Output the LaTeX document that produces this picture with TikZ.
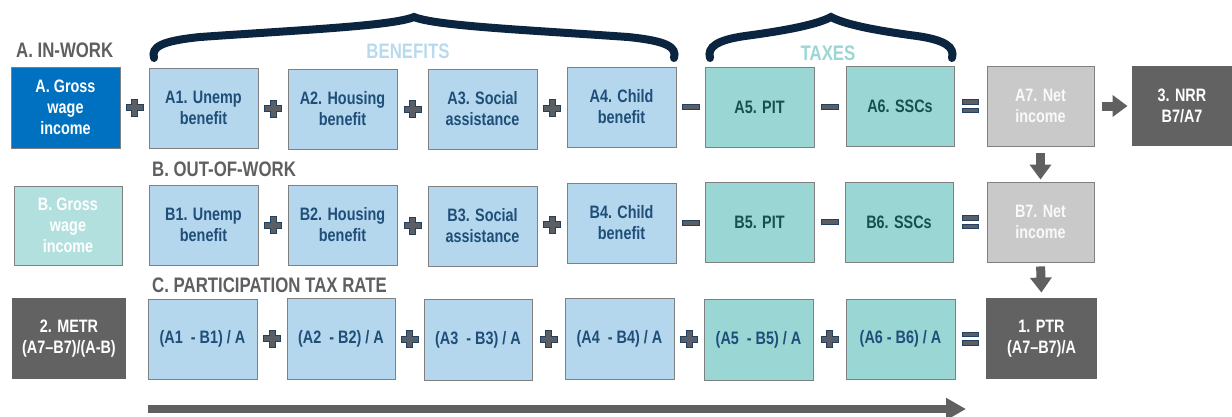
\documentclass[tikz,border=0pt]{standalone}
\usepackage{fontspec}
\setmainfont{Liberation Sans}[FakeStretch=0.8]
\usetikzlibrary{calc,arrows.meta}

\definecolor{grossblue}{HTML}{0070C0}
\definecolor{grossteal}{HTML}{B2E0DF}
\definecolor{benfill}{HTML}{B4D7ED}
\definecolor{taxfill}{HTML}{9AD6D4}
\definecolor{netfill}{HTML}{C9C9C9}
\definecolor{darkfill}{HTML}{626262}
\definecolor{boxline}{HTML}{808080}
\definecolor{navytext}{HTML}{1F4E79}
\definecolor{tealtext}{HTML}{17504F}
\definecolor{titlegray}{HTML}{5F5F5F}
\definecolor{benlabel}{HTML}{B8DAEF}
\definecolor{taxlabel}{HTML}{9AD6D4}
\definecolor{bracecol}{HTML}{0B2540}
\definecolor{signfill}{HTML}{5A5F66}
\definecolor{signline}{HTML}{23405E}
\definecolor{arrowgray}{HTML}{606060}

\tikzset{
  cell/.style={draw=boxline, line width=0.9pt, inner sep=0pt, align=center,
    font=\fontsize{18}{21}\selectfont\bfseries},
  grossA/.style={cell, fill=grossblue, text=white},
  grossB/.style={cell, fill=grossteal, text=white},
  ben/.style={cell, fill=benfill, text=navytext},
  tax/.style={cell, fill=taxfill, text=tealtext},
  taxc/.style={cell, fill=taxfill, text=navytext},
  net/.style={cell, fill=netfill, text=white!95!gray},
  result/.style={cell, draw=none, fill=darkfill, text=white},
  rowtitle/.style={text=titlegray, font=\fontsize{21}{24}\selectfont\bfseries,
    anchor=base west, inner sep=0pt},
  grouplabel/.style={font=\fontsize{21}{24}\selectfont\bfseries,
    anchor=base, inner sep=0pt},
  bracket/.style={draw=bracecol, line width=8pt, line cap=round},
  blockarrow/.style={draw=arrowgray, line width=9pt,
    -{Triangle[width=21pt,length=15pt]}},
  plusmark/.pic={
    \filldraw[fill=signfill, draw=signline, line width=0.7pt]
      (-8.5,-3) -- (-3,-3) -- (-3,-8.5) -- (3,-8.5) -- (3,-3)
      -- (8.5,-3) -- (8.5,3) -- (3,3) -- (3,8.5) -- (-3,8.5)
      -- (-3,3) -- (-8.5,3) -- cycle;},
  minusmark/.pic={
    \filldraw[fill=signfill, draw=signline, line width=0.7pt]
      (-8.5,-2.4) rectangle (8.5,2.4);},
  equalmark/.pic={
    \filldraw[fill=signfill, draw=signline, line width=0.7pt]
      (-8,-6.5) rectangle (8,-2);
    \filldraw[fill=signfill, draw=signline, line width=0.7pt]
      (-8,2) rectangle (8,6.5);}
}

% box from corner (x1,y1) to (x2,y2)
\newcommand{\cellbox}[7]{%
  \node[#6, minimum width={#4-#2}, minimum height={#5-#3}]
    (#1) at ({(#2+#4)/2},{(#3+#5)/2}) {#7};}

\newcommand{\signbetween}[3]{%
  \pic at ($(#2.east)!0.5!(#3.west)$) {#1};}

\begin{document}
\begin{tikzpicture}[x=1pt,y=-1pt]
\useasboundingbox (0,0) rectangle (1232,416);

% group braces
\draw[bracket] (154,58) .. controls (151,47) and (161,41) .. (200,37)
  .. controls (300,30) and (392,26) .. (414,17)
  .. controls (436,26) and (528,30) .. (628,37)
  .. controls (667,41) and (677,47) .. (674,58);
\draw[bracket] (710,58) .. controls (707,47) and (717,40) .. (745,36)
  .. controls (790,30) and (818,24) .. (831,17)
  .. controls (844,24) and (872,30) .. (917,36)
  .. controls (945,40) and (955,47) .. (952,58);
\node[grouplabel, text=benlabel] (benlbl) at (408,58) {BENEFITS};
\node[grouplabel, text=taxlabel] (taxlbl) at (828,60) {TAXES};

% row titles
\node[rowtitle] (titleA) at (16,57) {A. IN-WORK};
\node[rowtitle] (titleB) at (152,176) {B. OUT-OF-WORK};
\node[rowtitle] (titleC) at (152,292) {C. PARTICIPATION TAX RATE};

% row A: in work
\cellbox{Ag}{11}{67}{120}{148}{grossA}{A. Gross\\wage\\income}
\cellbox{A1}{149}{68}{258}{148}{ben}{A1. Unemp\\benefit}
\cellbox{A2}{288}{69}{397}{149}{ben}{A2. Housing\\benefit}
\cellbox{A3}{428}{69}{537}{149}{ben}{A3. Social\\assistance}
\cellbox{A4}{567}{67}{676}{147}{ben}{A4. Child\\benefit}
\cellbox{A5}{705}{67}{814}{147}{tax}{A5. PIT}
\cellbox{A6}{846}{66}{954}{146}{tax}{A6. SSCs}
\cellbox{A7}{987}{66}{1094}{146}{net}{A7. Net\\income}
\cellbox{NRR}{1132}{66}{1232}{146}{result}{3. NRR\\B7/A7}

\signbetween{plusmark}{Ag}{A1}
\signbetween{plusmark}{A1}{A2}
\signbetween{plusmark}{A2}{A3}
\signbetween{plusmark}{A3}{A4}
\signbetween{minusmark}{A4}{A5}
\signbetween{minusmark}{A5}{A6}
\signbetween{equalmark}{A6}{A7}

% row B: out of work
\cellbox{Bg}{14}{186}{122}{265}{grossB}{B. Gross\\wage\\income}
\cellbox{B1}{149}{185}{258}{265}{ben}{B1. Unemp\\benefit}
\cellbox{B2}{288}{185}{397}{265}{ben}{B2. Housing\\benefit}
\cellbox{B3}{428}{186}{537}{266}{ben}{B3. Social\\assistance}
\cellbox{B4}{567}{183}{676}{263}{ben}{B4. Child\\benefit}
\cellbox{B5}{705}{182}{814}{262}{tax}{B5. PIT}
\cellbox{B6}{845}{182}{953}{262}{tax}{B6. SSCs}
\cellbox{B7}{987}{182}{1094}{262}{net}{B7. Net\\income}

\signbetween{plusmark}{B1}{B2}
\signbetween{plusmark}{B2}{B3}
\signbetween{plusmark}{B3}{B4}
\signbetween{minusmark}{B4}{B5}
\signbetween{minusmark}{B5}{B6}
\signbetween{equalmark}{B6}{B7}

% row C: participation tax rate
\cellbox{METR}{12}{298}{126}{379}{result}{2. METR\\(A7–B7)/(A-B)}
\cellbox{C1}{148}{299}{257}{379}{ben}{(A1\ \ - B1) / A}
\cellbox{C2}{287}{298}{395}{379}{ben}{(A2\ \ - B2) / A}
\cellbox{C3}{424}{299}{532}{380}{ben}{(A3\ \ - B3) / A}
\cellbox{C4}{565}{298}{674}{379}{ben}{(A4\ \ - B4) / A}
\cellbox{C5}{704}{299}{813}{380}{taxc}{(A5\ \ - B5) / A}
\cellbox{C6}{846}{299}{955}{379}{taxc}{(A6 - B6) / A}
\cellbox{PTR}{986}{298}{1097}{379}{result}{1. PTR\\(A7–B7)/A}

\signbetween{plusmark}{C1}{C2}
\signbetween{plusmark}{C2}{C3}
\signbetween{plusmark}{C3}{C4}
\signbetween{plusmark}{C4}{C5}
\signbetween{plusmark}{C5}{C6}
\signbetween{equalmark}{C6}{PTR}

% flow arrows
\draw[blockarrow, shorten <=8pt, shorten >=4pt] (A7.east) -- (NRR.west);
\draw[blockarrow, shorten <=7pt, shorten >=2pt] (A7.south) -- (B7.north);
\draw[blockarrow, shorten <=4pt, shorten >=5pt] (B7.south) -- (PTR.north);

\coordinate (flowstart) at (148,409);
\coordinate (flowend) at (966,409);
\draw[draw=arrowgray, line width=8pt, -{Triangle[width=21pt,length=20pt]}]
  (flowstart) -- (flowend);
\end{tikzpicture}
\end{document}
